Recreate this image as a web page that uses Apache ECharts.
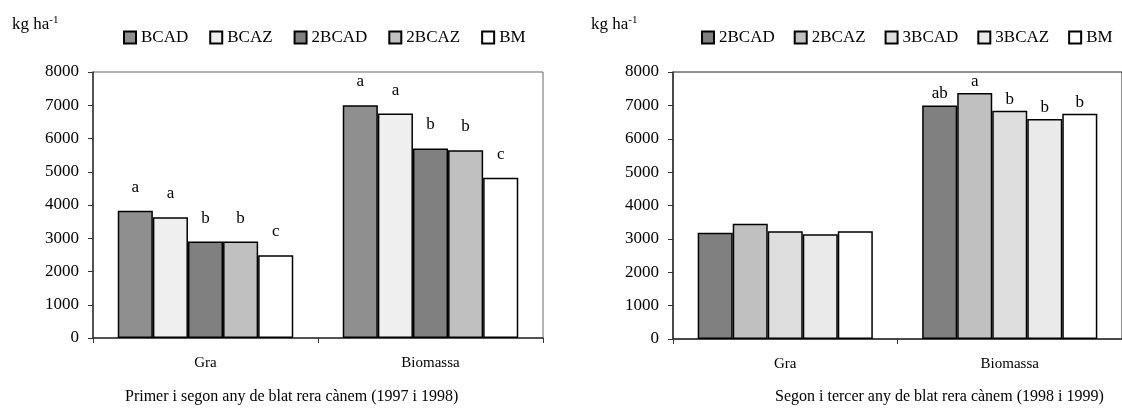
<!DOCTYPE html>
<html>
<head>
<meta charset="utf-8">
<script src="https://cdn.jsdelivr.net/npm/echarts@6/dist/echarts.min.js"></script>
<style>
  html, body { margin: 0; padding: 0; background: #fff; }
  #chart { width: 1122px; height: 409px; }
</style>
</head>
<body>
<div id="chart"></div>
<script>
// Categories and value axis
const categories = ['Gra', 'Biomassa'];
const yMin = 0, yMax = 8000, yStep = 1000;

// Panel 1: Primer i segon any de blat rera cànem (1997 i 1998)
const p1Names = ['BCAD', 'BCAZ', '2BCAD', '2BCAZ', 'BM'];
const p1BCAD  = [3830, 7000];
const p1BCAZ  = [3630, 6750];
const p1BCAD2 = [2900, 5700];
const p1BCAZ2 = [2900, 5650];
const p1BM    = [2490, 4820];
const p1Letters = [['a', 'a'], ['a', 'a'], ['b', 'b'], ['b', 'b'], ['c', 'c']];

// Panel 2: Segon i tercer any de blat rera cànem (1998 i 1999)
const p2Names = ['2BCAD', '2BCAZ', '3BCAD', '3BCAZ', 'BM'];
const p2BCAD2 = [3180, 7000];
const p2BCAZ2 = [3450, 7370];
const p2BCAD3 = [3230, 6840];
const p2BCAZ3 = [3140, 6590];
const p2BM    = [3230, 6750];
const p2Letters = [['', 'ab'], ['', 'a'], ['', 'b'], ['', 'b'], ['', 'b']];

const captions = [
  'Primer i segon any de blat rera cànem (1997 i 1998)',
  'Segon i tercer any de blat rera cànem (1998 i 1999)'
];

const fills = {
  'BCAD': '#8f8f8f',
  'BCAZ': '#efefef',
  '2BCAD': '#808080',
  '2BCAZ': '#c0c0c0',
  '3BCAD': '#dedede',
  '3BCAZ': '#eaeaea',
  'BM': '#ffffff'
};

const FONT = '"Liberation Serif", "Times New Roman", serif';

function makeSeries(name, values, letters, axisIdx, labelDist) {
  return {
    type: 'bar',
    name: name,
    xAxisIndex: axisIdx,
    yAxisIndex: axisIdx,
    data: values,
    barGap: '0%',
    barCategoryGap: '22%',
    itemStyle: { color: fills[name], borderColor: '#000', borderWidth: 1.5 },
    label: {
      show: true,
      position: 'top',
      distance: labelDist,
      fontFamily: FONT,
      fontSize: 17,
      color: '#000',
      formatter: p => letters[p.dataIndex]
    },
    emphasis: { disabled: true },
    animation: false
  };
}

const series = [
  makeSeries('BCAD', p1BCAD, p1Letters[0], 0, 15),
  makeSeries('BCAZ', p1BCAZ, p1Letters[1], 0, 15),
  makeSeries('2BCAD', p1BCAD2, p1Letters[2], 0, 15),
  makeSeries('2BCAZ', p1BCAZ2, p1Letters[3], 0, 15),
  makeSeries('BM', p1BM, p1Letters[4], 0, 15),
  makeSeries('2BCAD', p2BCAD2, p2Letters[0], 1, 3),
  makeSeries('2BCAZ', p2BCAZ2, p2Letters[1], 1, 3),
  makeSeries('3BCAD', p2BCAD3, p2Letters[2], 1, 3),
  makeSeries('3BCAZ', p2BCAZ3, p2Letters[3], 1, 3),
  makeSeries('BM', p2BM, p2Letters[4], 1, 3)
];

function xAxis(gridIndex) {
  return {
    type: 'category',
    gridIndex: gridIndex,
    data: categories,
    axisLine: { lineStyle: { color: '#333', width: 1.5 } },
    axisTick: { show: true, length: 5, lineStyle: { color: '#333' } },
    axisLabel: { fontFamily: FONT, fontSize: 15, color: '#000', margin: 18 }
  };
}
function yAxis(gridIndex) {
  return {
    type: 'value',
    gridIndex: gridIndex,
    min: yMin, max: yMax, interval: yStep,
    axisLine: { show: true, lineStyle: { color: '#333', width: 1.5 } },
    axisTick: { show: true, length: 5, lineStyle: { color: '#333' } },
    axisLabel: { fontFamily: FONT, fontSize: 17, color: '#000', margin: 14, formatter: v => String(v) },
    splitLine: { show: false }
  };
}

function unitLabel(left) {
  return {
    text: '{b|kg ha}{s|-1}',
    left: left, top: 10,
    textStyle: {
      fontWeight: 'normal',
      rich: {
        b: { fontFamily: FONT, fontSize: 17, fontWeight: 'normal', color: '#000' },
        s: { fontFamily: FONT, fontSize: 11, fontWeight: 'normal', color: '#000', verticalAlign: 'top', padding: [0, 0, 8, 0] }
      }
    }
  };
}

function legendFor(names, left, gap) {
  return {
    data: names, left: left, top: 24, width: 440,
    icon: 'rect', itemWidth: 12, itemHeight: 12, itemGap: gap,
    textStyle: { fontFamily: FONT, fontSize: 17, color: '#000' },
    selectedMode: false
  };
}

const chart = echarts.init(document.getElementById('chart'), null, { renderer: 'canvas' });
chart.setOption({
  animation: false,
  backgroundColor: '#fff',
  title: [
    unitLabel(7),
    unitLabel(586),
    { text: captions[0], left: 120, top: 384, textStyle: { fontFamily: FONT, fontSize: 16, fontWeight: 'normal', color: '#000' } },
    { text: captions[1], left: 770, top: 384, textStyle: { fontFamily: FONT, fontSize: 16, fontWeight: 'normal', color: '#000' } }
  ],
  legend: [
    legendFor(p1Names, 118, 21),
    legendFor(p2Names, 696, 19)
  ],
  grid: [
    { left: 93, top: 72, width: 450, height: 266, show: true, borderColor: '#666', borderWidth: 1 },
    { left: 673, top: 72, width: 452, height: 267, show: true, borderColor: '#222', borderWidth: 1 }
  ],
  xAxis: [xAxis(0), xAxis(1)],
  yAxis: [yAxis(0), yAxis(1)],
  series: series
});
</script>
</body>
</html>
